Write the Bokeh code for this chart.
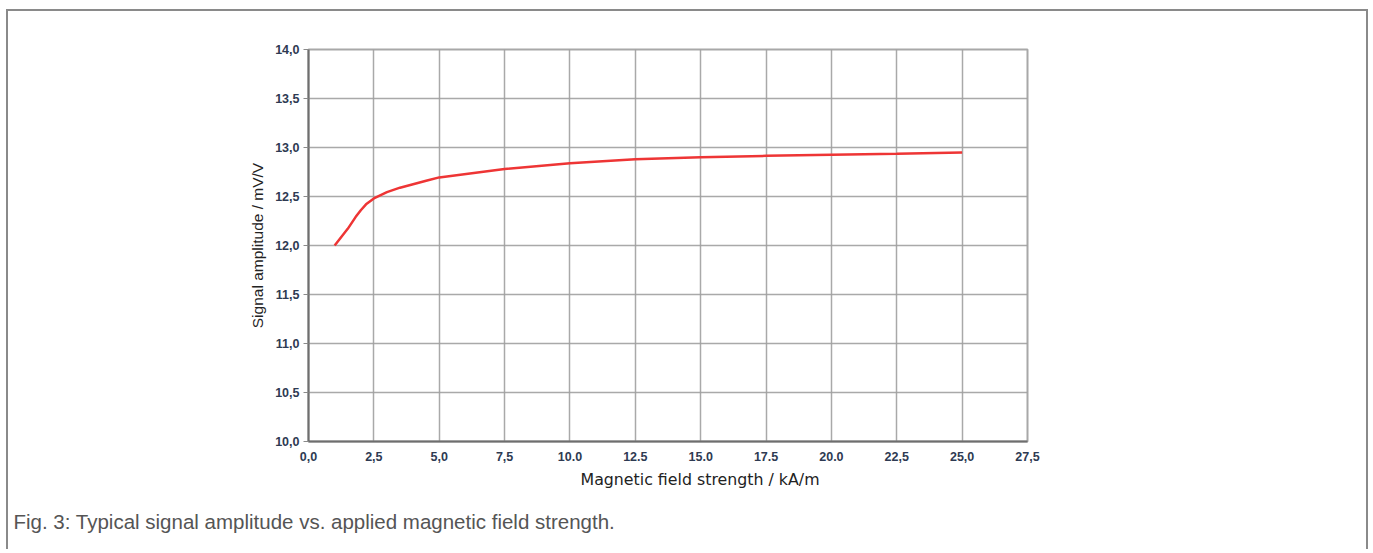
from bokeh.plotting import figure
from bokeh.models import FixedTicker, CustomJSTickFormatter, Range1d, Title
from bokeh.embed import file_html
from bokeh.resources import INLINE

# Data
field_kA_m = [1.0, 1.5, 1.8, 2.0, 2.2, 2.5, 3.0, 3.5, 4.0, 4.5, 5.0, 7.5, 10.0, 12.5, 15.0, 17.5, 20.0, 22.5, 25.0]
signal_mV_V = [12.0, 12.17, 12.29, 12.36, 12.42, 12.48, 12.545, 12.59, 12.625, 12.66, 12.695, 12.78, 12.84, 12.88, 12.90, 12.915, 12.925, 12.935, 12.95]

x_ticks = [0.0, 2.5, 5.0, 7.5, 10.0, 12.5, 15.0, 17.5, 20.0, 22.5, 25.0, 27.5]
x_tick_labels = ["0,0", "2,5", "5,0", "7,5", "10.0", "12.5", "15.0", "17.5", "20.0", "22,5", "25,0", "27,5"]
y_ticks = [10.0, 10.5, 11.0, 11.5, 12.0, 12.5, 13.0, 13.5, 14.0]
y_tick_labels = ["10,0", "10,5", "11,0", "11,5", "12,0", "12,5", "13,0", "13,5", "14,0"]

x_title = "Magnetic field strength / kA/m"
y_title = "Signal amplitude / mV/V"
caption = "Fig. 3: Typical signal amplitude vs. applied magnetic field strength."

W, H = 1362, 540
p = figure(width=W, height=H, output_backend="svg", toolbar_location=None,
           x_range=Range1d(0, 27.5), y_range=Range1d(10, 14),
           min_border_left=300, min_border_right=343, min_border_top=38, min_border_bottom=110)
p.styles = {"margin-left": "6px", "margin-top": "9px",
            "border-left": "2px solid #8a8a8a", "border-top": "2px solid #8a8a8a",
            "border-right": "2px solid #8a8a8a"}

p.outline_line_color = "#a8a8a8"
p.outline_line_width = 2

p.xaxis.ticker = FixedTicker(ticks=x_ticks)
p.yaxis.ticker = FixedTicker(ticks=y_ticks)
p.xaxis.formatter = CustomJSTickFormatter(args=dict(labels=x_tick_labels), code="return labels[Math.round(tick/2.5)]")
p.yaxis.formatter = CustomJSTickFormatter(args=dict(labels=y_tick_labels), code="return labels[Math.round((tick-10)/0.5)]")

for ax in (p.xaxis, p.yaxis):
    ax.axis_line_color = "#6e6e6e"
    ax.axis_line_width = 2
    ax.major_tick_line_color = "#8a8a8a"
    ax.minor_tick_line_color = None
    ax.major_tick_in = 0
    ax.major_label_text_font = "Liberation Sans"
    ax.major_label_text_font_style = "bold"
    ax.major_label_text_font_size = "12.5px"
    ax.major_label_text_color = "#2e3a52"

p.xaxis.major_tick_out = 0
p.yaxis.major_tick_out = 5
p.xaxis.major_label_standoff = 10
p.yaxis.major_label_standoff = 4

p.yaxis.axis_label = y_title
p.yaxis.axis_label_text_font = "Liberation Sans"
p.yaxis.axis_label_text_font_style = "normal"
p.yaxis.axis_label_text_font_size = "15.5px"
p.yaxis.axis_label_text_color = "#222222"
p.yaxis.axis_label_standoff = 6

p.grid.grid_line_color = "#a0a0a0"
p.grid.grid_line_width = 1.5
p.grid.grid_line_alpha = 0.9

p.line(field_kA_m, signal_mV_V, line_color="#ee3535", line_width=2.5)

p.add_layout(Title(text=x_title, align="left", offset=272,
                   text_font="DejaVu Sans", text_font_size="15.8px", text_color="#222222",
                   text_font_style="normal", standoff=8), "below")
p.add_layout(Title(text=caption, align="left", offset=-295,
                   text_font="Liberation Sans", text_font_size="20.5px", text_color="#555555",
                   text_font_style="normal", standoff=30), "below")

open("out.html", "w").write(file_html(p, INLINE))
